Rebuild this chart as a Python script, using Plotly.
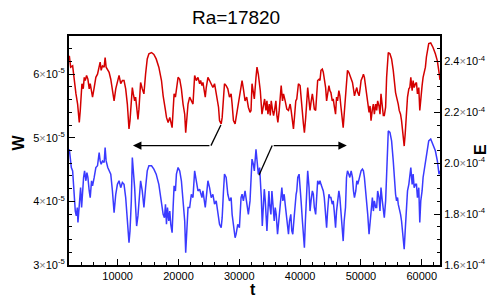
import plotly.graph_objects as go

# ---------------- data ----------------
title_text = "Ra=17820"

# W series (left axis), values in units of 1e-5
t_W = [2054,2272,2599,2872,3144,3417,3580,3689,3853,4016,4125,4344,4507,4671,4889,5107,5325,5488,5706,5870,
       6142,6415,6687,6960,7124,7287,7505,7778,7941,8105,8377,8595,8868,9140,9413,9686,9958,10231,10503,10776,
       11048,11321,11593,11866,12029,12248,12411,12575,12793,12956,13120,13338,13501,13774,14046,14319,14591,14864,15137,15573,
       15954,16336,16772,17208,17481,17698,17862,
       18027,18299,18572,18735,18953,19117,19280,19498,19662,19935,20207,20480,20752,21025,21188,21406,21570,21842,22115,22387,
       22660,22933,23205,23478,23641,23859,24023,24186,24404,24568,24840,25113,25386,25658,25931,26203,26367,26585,26748,27021,
       27184,27402,27566,27838,28111,28384,28656,28820,29038,29310,29474,29746,30019,30291,30455,30673,30946,31218,31491,31763,
       31927,32090,32309,32472,32745,32909,33127,
       33454,33727,33999,34163,34381,34544,34708,34926,35089,35253,35471,35635,35798,36016,36180,36343,36561,36725,36888,37106,
       37270,37542,37815,38087,38360,38524,38742,38905,39069,39287,39450,39723,39995,40159,40377,40540,40704,40922,41086,41249,
       41467,41631,41794,42012,42176,42339,42557,42721,42884,43102,43266,43429,43647,43811,43975,44193,44356,44520,44738,44901,
       45065,45283,45446,45610,45828,45991,46155,46373,46537,46700,46918,47082,47245,47463,47627,47790,48008,48172,
       48391,48609,48773,48936,49154,49318,49481,49699,49863,50026,50244,50408,50571,50790,50953,51117,51335,51498,51662,51880,
       52043,52207,52425,52588,52752,52970,53133,53297,53515,53679,53842,54060,54224,54387,54496,54769,55041,55314,55477,55695,
       55859,56022,56132,56295,56513,56677,56840,57004,57113,57277,57494,57658,57876,58039,58203,58421,58584,58748,58966,59130,
       59293,59511,59675,59838,60056,60220,60383,60601,60765,60928,61146,61473,61855,62237,62564,62836,63000]
W_1e5 = [6.29,6.11,6.13,5.85,5.69,5.53,5.37,5.24,5.43,5.71,5.85,5.77,5.95,5.90,5.98,5.92,5.77,5.85,5.69,5.64,
         5.79,5.95,6.00,6.11,6.19,6.06,6.13,6.11,6.26,6.11,6.06,6.03,5.92,5.71,5.58,5.77,5.87,5.98,5.85,5.90,
         5.90,5.77,5.53,5.14,5.27,5.53,5.79,5.69,5.58,5.64,5.43,5.29,5.45,5.87,5.77,5.69,6.00,6.24,6.32,6.34,
         6.31,6.24,6.11,5.90,5.66,5.48,5.43,
         5.32,5.24,5.32,5.22,5.16,5.43,5.69,5.64,5.79,5.95,5.92,5.77,5.53,5.37,5.08,5.32,5.53,5.64,5.58,5.53,
         5.98,5.90,5.95,5.85,5.90,5.82,5.87,5.74,5.64,5.79,5.95,5.90,5.85,5.79,5.85,5.69,5.58,5.48,5.27,5.22,
         5.32,5.58,5.85,5.82,5.77,5.64,5.69,5.53,5.27,5.22,5.32,5.53,5.69,5.85,5.90,5.77,5.58,5.64,5.48,5.40,
         5.43,5.85,5.69,5.61,5.95,6.11,6.00,
         5.74,5.37,5.58,5.61,5.43,5.58,5.37,5.53,5.35,5.58,5.43,5.35,5.43,5.58,5.35,5.24,5.43,5.61,5.82,5.58,
         5.69,5.58,5.45,5.43,5.53,5.43,5.22,5.14,5.32,5.58,5.61,5.85,5.82,5.58,5.40,5.22,5.08,5.32,5.58,5.79,
         5.58,5.43,5.56,5.69,5.58,5.45,5.43,5.71,5.90,5.92,5.90,6.06,6.08,6.03,5.95,5.79,5.58,5.66,5.82,5.74,
         5.71,5.58,5.61,5.50,5.37,5.64,5.58,5.74,5.66,5.50,5.32,5.16,5.37,5.66,6.00,6.06,6.03,5.98,
         5.90,5.87,5.77,5.66,5.74,5.79,5.71,5.66,5.77,5.90,5.95,6.00,5.95,5.79,5.64,5.48,5.40,5.50,5.27,5.45,
         5.53,5.37,5.53,5.43,5.58,5.50,5.37,5.69,5.50,5.35,5.35,5.48,5.95,6.27,6.34,6.32,6.24,6.06,5.85,5.71,
         5.64,5.58,5.53,5.43,5.37,5.27,5.11,4.95,4.87,5.06,5.48,5.64,5.77,5.79,5.95,5.74,5.90,5.79,5.85,5.87,
         5.69,5.79,5.43,5.66,5.82,5.95,6.03,6.11,6.27,6.37,6.48,6.49,6.42,6.32,6.21,6.03,5.91]

# E series (right axis), values in units of 1e-4
t_E = [2054,2218,2381,2599,2763,2926,3035,3199,3362,3471,3635,3798,3907,4071,4235,4398,4562,4780,4943,5107,
       5325,5488,5706,5870,6142,6415,6687,6960,7124,7287,7505,7778,7941,8105,8377,8595,8868,9140,9413,9686,
       9958,10231,10503,10776,11048,11321,11593,11866,12029,12248,12411,12575,12793,12956,13120,13338,13501,13774,14046,14319,
       14591,14864,15137,15573,15954,16336,16772,17208,17481,17698,17863,
       18027,18190,18408,18572,18735,18953,19117,19280,19498,19662,19935,20207,20480,20752,21025,21188,21406,21570,21842,22115,
       22387,22660,22933,23205,23478,23641,23859,24023,24186,24404,24568,24840,25113,25386,25658,25931,26203,26367,26585,26748,
       27021,27184,27402,27566,27838,28111,28384,28656,28820,29038,29310,29474,29746,30019,30291,30455,30673,30946,31218,31491,
       31763,31927,32090,32309,32472,32745,32909,33127,33344,
       33454,33618,33781,33945,34108,34272,34435,34544,34708,34871,34980,35198,35362,35525,35744,35907,36071,36289,36452,36616,
       36834,36997,37161,37379,37542,37706,37924,38087,38251,38469,38633,38796,39014,39178,39341,39450,39614,39832,39995,40159,
       40377,40540,40704,40867,41086,41249,41467,41631,41794,42012,42176,42339,42557,42721,42884,43102,43266,43429,43647,43811,
       43975,44193,44356,44520,44738,44901,45065,45283,45446,45610,45828,45991,46155,46373,46537,46700,46918,47082,47245,47463,
       47627,47790,48008,48172,
       48391,48609,48773,48936,49154,49318,49481,49699,49863,50026,50244,50408,50571,50790,50953,51117,51335,51498,51662,51880,
       52043,52207,52425,52588,52752,52970,53133,53297,53515,53679,53842,54060,54224,54387,54496,54769,55041,55314,55477,55695,
       55859,56022,56132,56295,56513,56677,56840,57004,57113,57277,57494,57658,57876,58039,58203,58421,58584,58748,58966,59130,
       59293,59511,59675,59838,60056,60220,60383,60601,60765,60928,61146,61473,61855,62237,62564,62836,63000]
E_1e4 = [2.055,2.009,1.983,1.970,1.904,1.852,1.812,1.793,1.826,1.767,1.812,1.852,1.904,1.826,1.891,1.944,1.970,1.931,1.963,1.944,
         1.891,1.865,1.931,1.911,1.944,1.983,1.990,2.042,2.009,1.996,2.009,2.003,2.062,2.009,1.983,1.970,1.957,1.891,1.806,1.878,
         1.917,1.931,1.904,1.924,1.917,1.865,1.786,1.688,1.734,1.852,2.022,1.983,1.904,1.826,1.753,1.793,1.852,1.931,1.891,1.826,
         1.904,1.970,1.990,1.990,1.977,1.957,1.917,1.852,1.799,1.786,1.839,
         1.760,1.826,1.773,1.812,1.760,1.727,1.826,1.911,1.891,1.957,1.983,1.970,1.931,1.852,1.773,1.648,1.773,1.826,1.826,1.878,
         1.865,1.970,1.931,1.891,1.898,1.878,1.865,1.891,1.852,1.826,1.865,1.931,1.904,1.865,1.878,1.839,1.852,1.826,1.799,1.760,
         1.747,1.786,1.891,1.957,1.944,1.878,1.852,1.865,1.799,1.747,1.707,1.721,1.760,1.747,1.865,1.878,1.852,1.891,1.852,1.799,
         1.852,1.931,2.016,1.996,1.970,2.055,2.009,1.957,1.983,
         1.944,1.865,1.753,1.826,1.898,1.852,1.786,1.734,1.812,1.891,1.839,1.799,1.891,1.826,1.773,1.826,1.799,1.721,1.760,1.799,
         1.865,1.904,1.852,1.878,1.839,1.799,1.773,1.721,1.773,1.799,1.734,1.721,1.786,1.852,1.878,1.891,1.944,1.957,1.917,1.852,
         1.773,1.721,1.668,1.773,1.917,1.970,1.904,1.812,1.852,1.891,1.878,1.826,1.799,1.878,1.931,1.917,1.931,1.917,1.904,1.891,
         1.865,1.799,1.747,1.812,1.878,1.865,1.865,1.839,1.852,1.812,1.747,1.812,1.839,1.891,1.865,1.812,1.760,1.694,1.773,1.826,
         1.944,1.970,1.957,1.944,
         1.970,1.944,1.891,1.865,1.891,1.931,1.917,1.944,1.957,1.970,1.977,1.970,1.944,1.891,1.865,1.799,1.721,1.773,1.812,1.865,
         1.812,1.852,1.826,1.826,1.891,1.865,1.812,1.904,1.852,1.799,1.786,1.852,1.983,2.088,2.127,2.121,2.088,2.009,1.931,1.878,
         1.852,1.865,1.839,1.826,1.799,1.773,1.734,1.694,1.662,1.734,1.839,1.891,1.917,1.944,1.983,1.917,1.957,1.904,1.917,1.917,
         1.865,1.904,1.767,1.852,1.891,1.944,1.970,1.996,2.022,2.055,2.088,2.095,2.075,2.049,2.009,1.957,1.970]

assert len(t_W) == len(W_1e5), (len(t_W), len(W_1e5))
assert len(t_E) == len(E_1e4), (len(t_E), len(E_1e4))

x_ticks = [10000, 20000, 30000, 40000, 50000, 60000]
x_ticklabels = ["10000", "20000", "30000", "40000", "50000", "60000"]
W_ticks = [3e-5, 4e-5, 5e-5, 6e-5]
W_ticklabels = ["3", "4", "5", "6"]
E_ticks = [1.6e-4, 1.8e-4, 2.0e-4, 2.2e-4, 2.4e-4]
E_ticklabels = ["1.6", "1.8", "2.0", "2.2", "2.4"]

# arrow guides (data coordinates on t / W axes)
arrow_W = dict(start=(26972, 5.20e-5), corner=(25337, 4.877e-5), tip=(12516, 4.877e-5))
arrow_E = dict(start=(33236, 4.41e-5), corner=(35411, 4.877e-5), tip=(47677, 4.877e-5))

# ---------------- figure ----------------
FONT = "Liberation Sans, Arial, Helvetica, sans-serif"
RED = "#d40000"
BLUE = "#3a3aff"
TIMES = "<span style='color:#808080'>×</span>"

W_vals = [v * 1e-5 for v in W_1e5]
E_vals = [v * 1e-4 for v in E_1e4]

fig = go.Figure()
fig.add_trace(go.Scatter(x=t_W, y=W_vals, mode="lines", line=dict(color=RED, width=1.5),
                         yaxis="y", showlegend=False, hoverinfo="skip"))
fig.add_trace(go.Scatter(x=t_E, y=E_vals, mode="lines", line=dict(color=BLUE, width=1.5),
                         yaxis="y2", showlegend=False, hoverinfo="skip"))

axis_common = dict(showgrid=False, zeroline=False, showline=True, linecolor="black", linewidth=2,
                   ticks="inside", ticklen=6, tickwidth=1, tickcolor="black",
                   tickfont=dict(family=FONT, size=11, color="black"))

fig.update_layout(
    width=498, height=298,
    margin=dict(l=69, r=56, t=36, b=33, pad=0),
    paper_bgcolor="white", plot_bgcolor="white",
    font=dict(family=FONT, color="black"),
    title=dict(text=title_text, x=0.474, xref="container", xanchor="center",
               y=1 - 17 / 298, yref="container", yanchor="middle",
               font=dict(family=FONT, size=19, color="black")),
    xaxis=dict(range=[2000, 63000], tickmode="array", tickvals=x_ticks, ticktext=x_ticklabels,
               mirror=True,
               minor=dict(tickmode="linear", tick0=0, dtick=2000, ticklen=3, ticks="inside", tickcolor="black"),
               **axis_common),
    yaxis=dict(range=[3e-5, 6.6e-5], tickmode="array", tickvals=W_ticks,
               ticktext=[f"{s}{TIMES}10<sup>-5</sup>" for s in W_ticklabels],
               minor=dict(tickmode="linear", tick0=3e-5, dtick=0.2e-5, ticklen=3, ticks="inside", tickcolor="black"),
               **axis_common),
    yaxis2=dict(range=[1.6e-4, 2.5e-4], overlaying="y", side="right", tickmode="array", tickvals=E_ticks,
                ticktext=[f"{s}{TIMES}10<sup>-4</sup>" for s in E_ticklabels],
                minor=dict(tickmode="linear", tick0=1.6e-4, dtick=0.05e-4, ticklen=3, ticks="inside", tickcolor="black"),
                **axis_common),
)

# axis titles
fig.add_annotation(text="<b>W</b>", xref="paper", yref="paper", x=(18 - 69) / 373, y=(264.7 - 142) / 228.7,
                   showarrow=False, textangle=-90, font=dict(family=FONT, size=16, color="black"),
                   xanchor="center", yanchor="middle")
fig.add_annotation(text="<b>E</b>", xref="paper", yref="paper", x=(482 - 69) / 373, y=(264.7 - 149) / 228.7,
                   showarrow=False, textangle=-90, font=dict(family=FONT, size=16, color="black"),
                   xanchor="center", yanchor="middle")
fig.add_annotation(text="<b>t</b>", xref="paper", yref="paper", x=(254 - 69) / 373, y=(264.7 - 289) / 228.7,
                   showarrow=False, font=dict(family=FONT, size=16, color="black"),
                   xanchor="center", yanchor="middle")

# arrows
for arr in (arrow_W, arrow_E):
    fig.add_shape(type="line", xref="x", yref="y", x0=arr["start"][0], y0=arr["start"][1],
                  x1=arr["corner"][0], y1=arr["corner"][1], line=dict(color="black", width=1.3))
    fig.add_annotation(x=arr["tip"][0], y=arr["tip"][1], ax=arr["corner"][0], ay=arr["corner"][1],
                       xref="x", yref="y", axref="x", ayref="y", text="", showarrow=True,
                       arrowhead=2, arrowsize=1.3, arrowwidth=1.3, arrowcolor="black")

# remove the browser's default 8px body margin so the figure sits at the window origin
fig.write_html("out.html", config={"displayModeBar": False, "staticPlot": True},
               post_script="document.body.style.margin='0px';document.body.style.overflow='hidden';")
